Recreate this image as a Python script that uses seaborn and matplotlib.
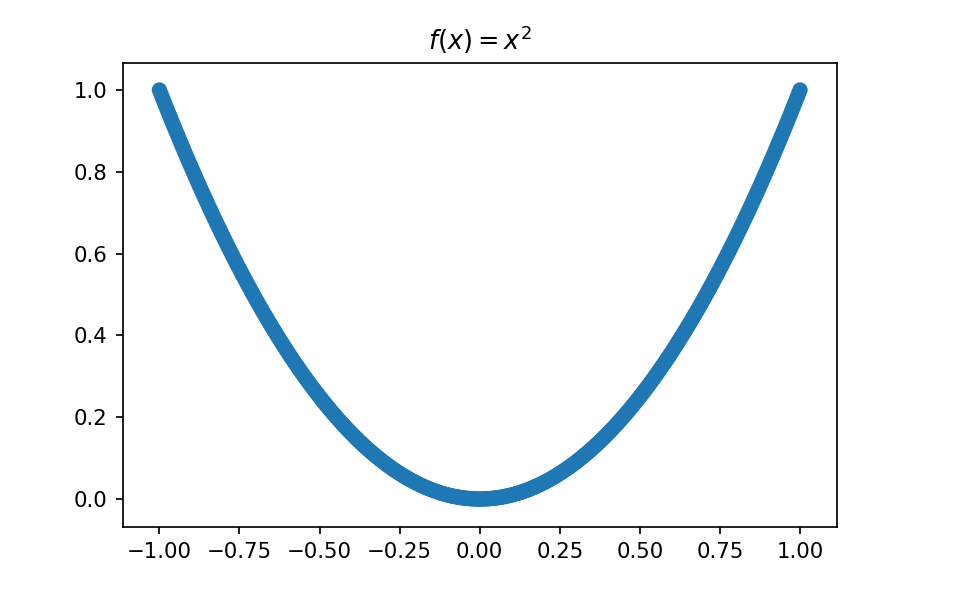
import matplotlib
matplotlib.use("Agg")
import matplotlib.pyplot as plt
import seaborn as sns
import pandas as pd

title = "$f(x) = x^2$"

# points read on the curve, step 0.01
x_values = [
    -1.00, -0.99, -0.98, -0.97, -0.96, -0.95, -0.94, -0.93, -0.92, -0.91,
    -0.90, -0.89, -0.88, -0.87, -0.86, -0.85, -0.84, -0.83, -0.82, -0.81,
    -0.80, -0.79, -0.78, -0.77, -0.76, -0.75, -0.74, -0.73, -0.72, -0.71,
    -0.70, -0.69, -0.68, -0.67, -0.66, -0.65, -0.64, -0.63, -0.62, -0.61,
    -0.60, -0.59, -0.58, -0.57, -0.56, -0.55, -0.54, -0.53, -0.52, -0.51,
    -0.50, -0.49, -0.48, -0.47, -0.46, -0.45, -0.44, -0.43, -0.42, -0.41,
    -0.40, -0.39, -0.38, -0.37, -0.36, -0.35, -0.34, -0.33, -0.32, -0.31,
    -0.30, -0.29, -0.28, -0.27, -0.26, -0.25, -0.24, -0.23, -0.22, -0.21,
    -0.20, -0.19, -0.18, -0.17, -0.16, -0.15, -0.14, -0.13, -0.12, -0.11,
    -0.10, -0.09, -0.08, -0.07, -0.06, -0.05, -0.04, -0.03, -0.02, -0.01,
    0.00,
    0.01, 0.02, 0.03, 0.04, 0.05, 0.06, 0.07, 0.08, 0.09, 0.10,
    0.11, 0.12, 0.13, 0.14, 0.15, 0.16, 0.17, 0.18, 0.19, 0.20,
    0.21, 0.22, 0.23, 0.24, 0.25, 0.26, 0.27, 0.28, 0.29, 0.30,
    0.31, 0.32, 0.33, 0.34, 0.35, 0.36, 0.37, 0.38, 0.39, 0.40,
    0.41, 0.42, 0.43, 0.44, 0.45, 0.46, 0.47, 0.48, 0.49, 0.50,
    0.51, 0.52, 0.53, 0.54, 0.55, 0.56, 0.57, 0.58, 0.59, 0.60,
    0.61, 0.62, 0.63, 0.64, 0.65, 0.66, 0.67, 0.68, 0.69, 0.70,
    0.71, 0.72, 0.73, 0.74, 0.75, 0.76, 0.77, 0.78, 0.79, 0.80,
    0.81, 0.82, 0.83, 0.84, 0.85, 0.86, 0.87, 0.88, 0.89, 0.90,
    0.91, 0.92, 0.93, 0.94, 0.95, 0.96, 0.97, 0.98, 0.99, 1.00,
]

y_values = [
    1.0000, 0.9801, 0.9604, 0.9409, 0.9216, 0.9025, 0.8836, 0.8649, 0.8464, 0.8281,
    0.8100, 0.7921, 0.7744, 0.7569, 0.7396, 0.7225, 0.7056, 0.6889, 0.6724, 0.6561,
    0.6400, 0.6241, 0.6084, 0.5929, 0.5776, 0.5625, 0.5476, 0.5329, 0.5184, 0.5041,
    0.4900, 0.4761, 0.4624, 0.4489, 0.4356, 0.4225, 0.4096, 0.3969, 0.3844, 0.3721,
    0.3600, 0.3481, 0.3364, 0.3249, 0.3136, 0.3025, 0.2916, 0.2809, 0.2704, 0.2601,
    0.2500, 0.2401, 0.2304, 0.2209, 0.2116, 0.2025, 0.1936, 0.1849, 0.1764, 0.1681,
    0.1600, 0.1521, 0.1444, 0.1369, 0.1296, 0.1225, 0.1156, 0.1089, 0.1024, 0.0961,
    0.0900, 0.0841, 0.0784, 0.0729, 0.0676, 0.0625, 0.0576, 0.0529, 0.0484, 0.0441,
    0.0400, 0.0361, 0.0324, 0.0289, 0.0256, 0.0225, 0.0196, 0.0169, 0.0144, 0.0121,
    0.0100, 0.0081, 0.0064, 0.0049, 0.0036, 0.0025, 0.0016, 0.0009, 0.0004, 0.0001,
    0.0000,
    0.0001, 0.0004, 0.0009, 0.0016, 0.0025, 0.0036, 0.0049, 0.0064, 0.0081, 0.0100,
    0.0121, 0.0144, 0.0169, 0.0196, 0.0225, 0.0256, 0.0289, 0.0324, 0.0361, 0.0400,
    0.0441, 0.0484, 0.0529, 0.0576, 0.0625, 0.0676, 0.0729, 0.0784, 0.0841, 0.0900,
    0.0961, 0.1024, 0.1089, 0.1156, 0.1225, 0.1296, 0.1369, 0.1444, 0.1521, 0.1600,
    0.1681, 0.1764, 0.1849, 0.1936, 0.2025, 0.2116, 0.2209, 0.2304, 0.2401, 0.2500,
    0.2601, 0.2704, 0.2809, 0.2916, 0.3025, 0.3136, 0.3249, 0.3364, 0.3481, 0.3600,
    0.3721, 0.3844, 0.3969, 0.4096, 0.4225, 0.4356, 0.4489, 0.4624, 0.4761, 0.4900,
    0.5041, 0.5184, 0.5329, 0.5476, 0.5625, 0.5776, 0.5929, 0.6084, 0.6241, 0.6400,
    0.6561, 0.6724, 0.6889, 0.7056, 0.7225, 0.7396, 0.7569, 0.7744, 0.7921, 0.8100,
    0.8281, 0.8464, 0.8649, 0.8836, 0.9025, 0.9216, 0.9409, 0.9604, 0.9801, 1.0000,
]

# further points read between the ones above
x_values_b = [
    -0.995, -0.985, -0.975, -0.965, -0.955, -0.945, -0.935, -0.925, -0.915, -0.905,
    -0.895, -0.885, -0.875, -0.865, -0.855, -0.845, -0.835, -0.825, -0.815, -0.805,
    -0.795, -0.785, -0.775, -0.765, -0.755, -0.745, -0.735, -0.725, -0.715, -0.705,
    -0.695, -0.685, -0.675, -0.665, -0.655, -0.645, -0.635, -0.625, -0.615, -0.605,
    -0.595, -0.585, -0.575, -0.565, -0.555, -0.545, -0.535, -0.525, -0.515, -0.505,
    -0.495, -0.485, -0.475, -0.465, -0.455, -0.445, -0.435, -0.425, -0.415, -0.405,
    -0.395, -0.385, -0.375, -0.365, -0.355, -0.345, -0.335, -0.325, -0.315, -0.305,
    -0.295, -0.285, -0.275, -0.265, -0.255, -0.245, -0.235, -0.225, -0.215, -0.205,
    -0.195, -0.185, -0.175, -0.165, -0.155, -0.145, -0.135, -0.125, -0.115, -0.105,
    -0.095, -0.085, -0.075, -0.065, -0.055, -0.045, -0.035, -0.025, -0.015, -0.005,
    0.005, 0.015, 0.025, 0.035, 0.045, 0.055, 0.065, 0.075, 0.085, 0.095,
    0.105, 0.115, 0.125, 0.135, 0.145, 0.155, 0.165, 0.175, 0.185, 0.195,
    0.205, 0.215, 0.225, 0.235, 0.245, 0.255, 0.265, 0.275, 0.285, 0.295,
    0.305, 0.315, 0.325, 0.335, 0.345, 0.355, 0.365, 0.375, 0.385, 0.395,
    0.405, 0.415, 0.425, 0.435, 0.445, 0.455, 0.465, 0.475, 0.485, 0.495,
    0.505, 0.515, 0.525, 0.535, 0.545, 0.555, 0.565, 0.575, 0.585, 0.595,
    0.605, 0.615, 0.625, 0.635, 0.645, 0.655, 0.665, 0.675, 0.685, 0.695,
    0.705, 0.715, 0.725, 0.735, 0.745, 0.755, 0.765, 0.775, 0.785, 0.795,
    0.805, 0.815, 0.825, 0.835, 0.845, 0.855, 0.865, 0.875, 0.885, 0.895,
    0.905, 0.915, 0.925, 0.935, 0.945, 0.955, 0.965, 0.975, 0.985, 0.995,
]

y_values_b = [
    0.9900, 0.9702, 0.9506, 0.9312, 0.9120, 0.8930, 0.8742, 0.8556, 0.8372, 0.8190,
    0.8010, 0.7832, 0.7656, 0.7482, 0.7310, 0.7140, 0.6972, 0.6806, 0.6642, 0.6480,
    0.6320, 0.6162, 0.6006, 0.5852, 0.5700, 0.5550, 0.5402, 0.5256, 0.5112, 0.4970,
    0.4830, 0.4692, 0.4556, 0.4422, 0.4290, 0.4160, 0.4032, 0.3906, 0.3782, 0.3660,
    0.3540, 0.3422, 0.3306, 0.3192, 0.3080, 0.2970, 0.2862, 0.2756, 0.2652, 0.2550,
    0.2450, 0.2352, 0.2256, 0.2162, 0.2070, 0.1980, 0.1892, 0.1806, 0.1722, 0.1640,
    0.1560, 0.1482, 0.1406, 0.1332, 0.1260, 0.1190, 0.1122, 0.1056, 0.0992, 0.0930,
    0.0870, 0.0812, 0.0756, 0.0702, 0.0650, 0.0600, 0.0552, 0.0506, 0.0462, 0.0420,
    0.0380, 0.0342, 0.0306, 0.0272, 0.0240, 0.0210, 0.0182, 0.0156, 0.0132, 0.0110,
    0.0090, 0.0072, 0.0056, 0.0042, 0.0030, 0.0020, 0.0012, 0.0006, 0.0002, 0.0000,
    0.0000, 0.0002, 0.0006, 0.0012, 0.0020, 0.0030, 0.0042, 0.0056, 0.0072, 0.0090,
    0.0110, 0.0132, 0.0156, 0.0182, 0.0210, 0.0240, 0.0272, 0.0306, 0.0342, 0.0380,
    0.0420, 0.0462, 0.0506, 0.0552, 0.0600, 0.0650, 0.0702, 0.0756, 0.0812, 0.0870,
    0.0930, 0.0992, 0.1056, 0.1122, 0.1190, 0.1260, 0.1332, 0.1406, 0.1482, 0.1560,
    0.1640, 0.1722, 0.1806, 0.1892, 0.1980, 0.2070, 0.2162, 0.2256, 0.2352, 0.2450,
    0.2550, 0.2652, 0.2756, 0.2862, 0.2970, 0.3080, 0.3192, 0.3306, 0.3422, 0.3540,
    0.3660, 0.3782, 0.3906, 0.4032, 0.4160, 0.4290, 0.4422, 0.4556, 0.4692, 0.4830,
    0.4970, 0.5112, 0.5256, 0.5402, 0.5550, 0.5700, 0.5852, 0.6006, 0.6162, 0.6320,
    0.6480, 0.6642, 0.6806, 0.6972, 0.7140, 0.7310, 0.7482, 0.7656, 0.7832, 0.8010,
    0.8190, 0.8372, 0.8556, 0.8742, 0.8930, 0.9120, 0.9312, 0.9506, 0.9702, 0.9900,
]

x_ticks = [-1.00, -0.75, -0.50, -0.25, 0.00, 0.25, 0.50, 0.75, 1.00]
y_ticks = [0.0, 0.2, 0.4, 0.6, 0.8, 1.0]

df = pd.DataFrame({"x": x_values + x_values_b, "y": y_values + y_values_b})

DPI = 153.4
fig = plt.figure(figsize=(958 / DPI, 590 / DPI), dpi=DPI)
ax = fig.add_axes([0.1281, 0.1073, 0.7453, 0.7859])

sns.scatterplot(data=df, x="x", y="y", ax=ax, color="#1f77b4",
                s=52, linewidth=0, edgecolor="none", legend=False)

ax.set_xlim(-1.1145, 1.1146)
ax.set_ylim(-0.0677, 1.066)
ax.set_xticks(x_ticks)
ax.set_yticks(y_ticks)
ax.set_xticklabels([f"{t:.2f}".replace("-", "\u2212") for t in x_ticks])
ax.set_yticklabels([f"{t:.1f}" for t in y_ticks])
ax.set_xlabel("")
ax.set_ylabel("")
ax.set_title(title, fontsize=12)

fig.savefig("out.png", dpi=DPI)
